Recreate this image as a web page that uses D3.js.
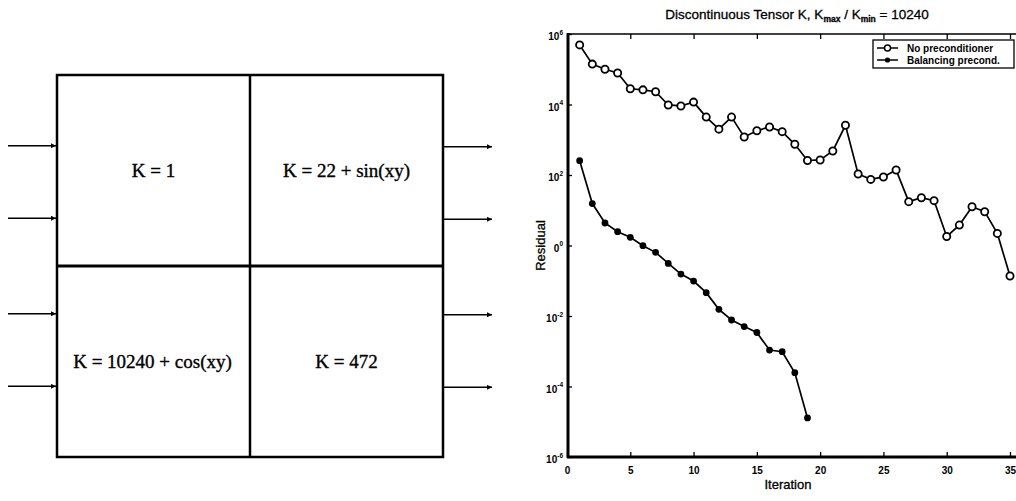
<!DOCTYPE html>
<html>
<head>
<meta charset="utf-8">
<script src="https://cdn.jsdelivr.net/npm/d3@7"></script>
<style>
  html, body { margin: 0; padding: 0; background: #fff; }
  svg { display: block; }
</style>
</head>
<body>
<svg id="chart" width="1016" height="501"></svg>
<script>
// ---------- data ----------
const iterations = [1,2,3,4,5,6,7,8,9,10,11,12,13,14,15,16,17,18,19,20,21,22,23,24,25,26,27,28,29,30,31,32,33,34,35];
const noPrecond = [4.9e5, 1.4e5, 1.0e5, 7.8e4, 2.8e4, 2.6e4, 2.3e4, 9.7e3, 9.1e3, 1.17e4,
                   4.4e3, 2.0e3, 4.4e3, 1.2e3, 1.8e3, 2.3e3, 1.7e3, 743, 258, 267,
                   480, 2570, 107, 75, 88, 139, 17.5, 22.7, 18.7, 1.8,
                   3.8, 12.6, 9.1, 2.2, 0.136];
const balancing = [255, 15.5, 4.35, 2.46, 1.71, 0.99, 0.64, 0.31, 0.155, 0.098,
                   0.046, 0.0155, 0.0077, 0.005, 0.0034, 0.00108, 0.00097, 2.46e-4, 1.28e-5];
const xTicks = [0, 5, 10, 15, 20, 25, 30, 35];
const yTicks = [1e6, 1e4, 1e2, 1e0, 1e-2, 1e-4, 1e-6];
const yTickExp = ["6", "4", "2", "0", "-2", "-4", "-6"];
const yTickBase = ["10", "10", "10", "0", "10", "10", "10"];
const seriesNames = ["No preconditioner", "Balancing precond."];

// diagram data
const cellLabels = ["K = 1", "K = 22 + sin(xy)", "K = 10240 + cos(xy)", "K = 472"];
const cellCol = [0, 1, 0, 1];
const cellRow = [0, 0, 1, 1];
const arrowRows = [0.37, 0.75, 1.25, 1.63];

const svg = d3.select("#chart");

// ---------- left diagram ----------
const dx = d3.scaleLinear().domain([0, 2]).range([57, 443]);
const dy = d3.scaleLinear().domain([0, 2]).range([75, 457]);
const diag = svg.append("g");

const defs = svg.append("defs");
defs.append("marker").attr("id", "arr").attr("viewBox", "0 0 10 10")
  .attr("refX", 10).attr("refY", 5).attr("markerWidth", 11).attr("markerHeight", 5)
  .attr("markerUnits", "userSpaceOnUse").attr("orient", "auto")
  .append("path").attr("d", "M0,0 L10,5 L0,10 z").attr("fill", "#000");

diag.append("rect").attr("x", dx(0)).attr("y", dy(0))
  .attr("width", dx(2) - dx(0)).attr("height", dy(2) - dy(0))
  .attr("fill", "none").attr("stroke", "#000").attr("stroke-width", 2.5);
diag.append("line").attr("x1", dx(1)).attr("x2", dx(1)).attr("y1", dy(0)).attr("y2", dy(2))
  .attr("stroke", "#000").attr("stroke-width", 2.5);
diag.append("line").attr("x1", dx(0)).attr("x2", dx(2)).attr("y1", dy(1)).attr("y2", dy(1))
  .attr("stroke", "#000").attr("stroke-width", 2.8);

diag.selectAll("text.cell").data(cellLabels).join("text")
  .attr("class", "cell")
  .attr("x", (d, i) => dx(cellCol[i] + 0.5) + (i === 2 ? -1 : 0))
  .attr("y", (d, i) => dy(cellRow[i] + 0.5))
  .attr("text-anchor", "middle").attr("dominant-baseline", "central")
  .attr("font-family", "'Liberation Serif', 'DejaVu Serif', serif")
  .attr("font-size", 19).attr("fill", "#000")
  .attr("stroke", "#000").attr("stroke-width", 0.35)
  .text(d => d);

diag.selectAll("line.inarrow").data(arrowRows).join("line")
  .attr("class", "inarrow")
  .attr("x1", 8).attr("x2", dx(0) - 1)
  .attr("y1", d => dy(d)).attr("y2", d => dy(d))
  .attr("stroke", "#000").attr("stroke-width", 1.5).attr("marker-end", "url(#arr)");
diag.selectAll("line.outarrow").data(arrowRows).join("line")
  .attr("class", "outarrow")
  .attr("x1", dx(2) + 1).attr("x2", 492)
  .attr("y1", d => dy(d) + 1).attr("y2", d => dy(d) + 1)
  .attr("stroke", "#000").attr("stroke-width", 1.5).attr("marker-end", "url(#arr)");

// ---------- right chart ----------
const pLeft = 568, pTop = 34, pBottom = 457, pRight = 1016;
const x = d3.scaleLinear().domain([0, 35]).range([567, 1010]);
const y = d3.scaleLog().domain([1e-6, 1e6]).range([pBottom, pTop]);
const g = svg.append("g");
const sansFont = "'Liberation Sans', Arial, Helvetica, sans-serif";

// title
const title = g.append("text").attr("x", 797).attr("y", 19)
  .attr("text-anchor", "middle").attr("font-family", sansFont)
  .attr("font-size", 13.5).attr("fill", "#000")
  .attr("stroke", "#000").attr("stroke-width", 0.3);
title.append("tspan").text("Discontinuous Tensor K, K");
title.append("tspan").attr("font-size", 8.5).attr("font-weight", "bold").attr("dy", 3).text("max");
title.append("tspan").attr("dy", -3).text(" / K");
title.append("tspan").attr("font-size", 8.5).attr("font-weight", "bold").attr("dy", 3).text("min");
title.append("tspan").attr("dy", -3).text(" = 10240");

// frame line (top)
g.append("line").attr("x1", pLeft).attr("x2", pRight).attr("y1", pTop).attr("y2", pTop)
  .attr("stroke", "#000").attr("stroke-width", 1.5);

// bottom axis
const xAxis = g.append("g").attr("transform", `translate(0,${pBottom})`)
  .call(d3.axisBottom(x).tickValues(xTicks).tickSize(-5).tickPadding(10).tickFormat(d3.format("d")));
xAxis.select(".domain").remove();
xAxis.append("line").attr("x1", pLeft - 1).attr("x2", pRight).attr("y1", 0).attr("y2", 0)
  .attr("stroke", "#000").attr("stroke-width", 3);
xAxis.selectAll(".tick line").attr("stroke-width", 1.3);
xAxis.selectAll(".tick text").attr("font-family", sansFont).attr("font-weight", "bold")
  .attr("font-size", 10).attr("fill", "#000");

// top ticks
const xTop = g.append("g").attr("transform", `translate(0,${pTop})`)
  .call(d3.axisTop(x).tickValues(xTicks.filter(v => v > 0)).tickSize(-5).tickFormat(""));
xTop.select(".domain").remove();
xTop.selectAll(".tick line").attr("stroke-width", 1.3);

// left axis
const yAxis = g.append("g").attr("transform", `translate(${pLeft},0)`)
  .call(d3.axisLeft(y).tickValues(yTicks).tickSize(-4).tickPadding(8).tickFormat(""));
yAxis.select(".domain").remove();
yAxis.append("line").attr("x1", 0).attr("x2", 0).attr("y1", pTop - 1).attr("y2", pBottom + 1)
  .attr("stroke", "#000").attr("stroke-width", 3);
yAxis.selectAll(".tick line").attr("stroke-width", 1.3);
yAxis.selectAll(".tick text").each(function(d, i) {
  const t = d3.select(this);
  t.attr("font-family", sansFont).attr("font-weight", "bold").attr("fill", "#000")
   .attr("x", -5).attr("dy", "0.55em").attr("text-anchor", "end");
  t.append("tspan").attr("font-size", 10).text(yTickBase[i]);
  t.append("tspan").attr("font-size", 6.5).attr("dy", -5.5).text(yTickExp[i]);
});

// axis labels
g.append("text").attr("transform", `translate(540,${(pTop + pBottom) / 2}) rotate(-90)`)
  .attr("text-anchor", "middle").attr("dominant-baseline", "central")
  .attr("font-family", sansFont).attr("font-size", 13).attr("fill", "#000")
  .attr("stroke", "#000").attr("stroke-width", 0.3).text("Residual");
g.append("text").attr("x", 788).attr("y", 489)
  .attr("text-anchor", "middle").attr("font-family", sansFont)
  .attr("font-size", 13).attr("fill", "#000")
  .attr("stroke", "#000").attr("stroke-width", 0.3).text("Iteration");

// lines
const line = d3.line().x(d => x(d[0])).y(d => y(d[1]));
const noData = noPrecond.map((v, i) => [iterations[i], v]);
const balData = balancing.map((v, i) => [iterations[i], v]);

g.append("path").datum(noData).attr("d", line).attr("fill", "none")
  .attr("stroke", "#000").attr("stroke-width", 1.7);
g.append("path").datum(balData).attr("d", line).attr("fill", "none")
  .attr("stroke", "#000").attr("stroke-width", 1.7);

g.selectAll("circle.no").data(noData).join("circle").attr("class", "no")
  .attr("cx", d => x(d[0])).attr("cy", d => y(d[1])).attr("r", 3.6)
  .attr("fill", "#fff").attr("stroke", "#000").attr("stroke-width", 1.8);
g.selectAll("circle.bal").data(balData).join("circle").attr("class", "bal")
  .attr("cx", d => x(d[0])).attr("cy", d => y(d[1])).attr("r", 3.4)
  .attr("fill", "#000");

// legend
const lg = g.append("g").attr("transform", "translate(873,40)");
lg.append("rect").attr("x", 0).attr("y", 0).attr("width", 141).attr("height", 28)
  .attr("fill", "#fff").attr("stroke", "#000").attr("stroke-width", 1.3);
seriesNames.forEach((name, i) => {
  const yy = 8 + i * 12;
  lg.append("line").attr("x1", 4).attr("x2", 25).attr("y1", yy).attr("y2", yy)
    .attr("stroke", "#000").attr("stroke-width", 1.5);
  if (i === 0) {
    lg.append("circle").attr("cx", 14.5).attr("cy", yy).attr("r", 3)
      .attr("fill", "#fff").attr("stroke", "#000").attr("stroke-width", 1.5);
  } else {
    lg.append("circle").attr("cx", 14.5).attr("cy", yy).attr("r", 2.6).attr("fill", "#000");
  }
  lg.append("text").attr("x", 34).attr("y", yy).attr("dominant-baseline", "central")
    .attr("font-family", sansFont).attr("font-weight", "bold").attr("font-size", 10)
    .attr("fill", "#000").text(name);
});
</script>
</body>
</html>
